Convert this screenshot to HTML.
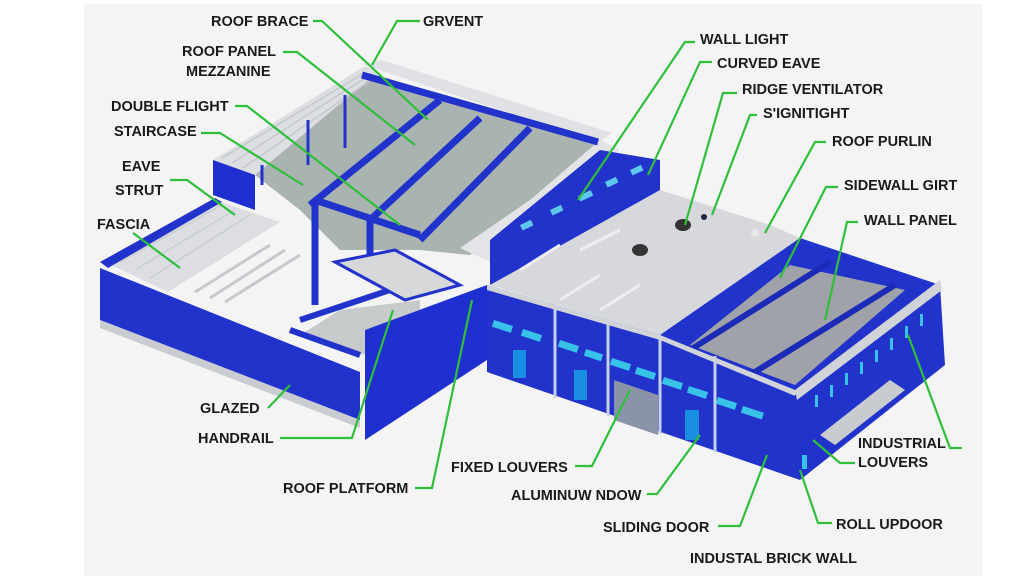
<!DOCTYPE html>
<html><head><meta charset="utf-8"><style>
html,body{margin:0;padding:0;background:#fff;width:1024px;height:576px;overflow:hidden}
svg{display:block}
text{font-family:"Liberation Sans",sans-serif;font-weight:bold;font-size:14.5px;fill:#1a1a1a}
.g{stroke:#2fbf3a;stroke-width:2.2;fill:none}
</style></head><body>
<svg width="1024" height="576" viewBox="0 0 1024 576">
<rect x="84" y="4" width="898" height="572" fill="#f4f4f4"/>
<!-- interior gray -->
<polygon points="255,175 365,72 600,140 470,255 420,250 340,250 300,210" fill="#a9b3b0"/>
<!-- upper left mezzanine roof -->
<polygon points="213,160 365,66 378,72 255,175" fill="#dcdee2"/>
<g stroke="#c4c7cc" stroke-width="1.5">
<line x1="222" y1="158" x2="366" y2="72"/><line x1="232" y1="163" x2="370" y2="75"/><line x1="243" y1="168" x2="374" y2="78"/>
</g>
<polygon points="213,160 255,175 255,210 213,195" fill="#2030d0"/>
<!-- top ridge strip -->
<polygon points="362,64 382,60 612,133 598,143" fill="#dfe1e4"/>
<!-- right striped roof panel -->
<polygon points="600,140 530,200 460,248 490,262 560,210 620,150" fill="#e2e4e7"/>
<!-- blue beams -->
<g stroke="#2233cc" stroke-width="7" fill="none">
<line x1="362" y1="75" x2="598" y2="142"/>
<line x1="310" y1="205" x2="440" y2="100"/>
<line x1="370" y1="220" x2="480" y2="118"/>
<line x1="420" y1="240" x2="530" y2="128"/>
<line x1="315" y1="200" x2="315" y2="305"/>
<line x1="315" y1="200" x2="420" y2="235"/>
<line x1="370" y1="218" x2="370" y2="265"/>
</g>
<g stroke="#2233cc" stroke-width="3"><line x1="262" y1="165" x2="262" y2="185"/><line x1="308" y1="120" x2="308" y2="165"/><line x1="345" y1="95" x2="345" y2="148"/></g>
<!-- middle right blue wall with windows -->
<polygon points="490,240 600,150 660,160 660,195 490,285" fill="#2233cc"/>
<g fill="#5ec8ec"><rect x="520" y="225" width="12" height="6" transform="rotate(-25 520 225)"/><rect x="550" y="210" width="12" height="6" transform="rotate(-25 550 210)"/><rect x="578" y="196" width="14" height="6" transform="rotate(-25 578 196)"/><rect x="605" y="182" width="12" height="6" transform="rotate(-25 605 182)"/><rect x="630" y="170" width="12" height="6" transform="rotate(-25 630 170)"/></g>
<!-- left lower roof -->
<polygon points="105,262 215,200 280,222 168,292" fill="#dcdee2"/>
<g stroke="#c9ccd0" stroke-width="1.5"><line x1="120" y1="262" x2="222" y2="205"/><line x1="135" y1="270" x2="235" y2="210"/><line x1="150" y1="278" x2="250" y2="215"/></g>
<polygon points="100,262 215,198 222,202 108,268" fill="#2233cc"/>
<g stroke="#c5c8cc" stroke-width="3"><line x1="195" y1="292" x2="270" y2="245"/><line x1="210" y1="298" x2="285" y2="250"/><line x1="225" y1="302" x2="300" y2="255"/></g>
<!-- left front wall -->
<polygon points="100,268 360,372 360,420 100,320" fill="#2233cc"/>
<polygon points="100,320 360,420 360,428 100,328" fill="#c9ccd0"/>
<polygon points="300,335 340,310 420,300 420,340 360,355" fill="#c8cbcc"/>
<g stroke="#2233cc" stroke-width="6"><line x1="290" y1="330" x2="360" y2="355"/><line x1="300" y1="320" x2="420" y2="280"/></g>
<!-- mezzanine platform -->
<polygon points="335,262 395,250 460,285 405,300" fill="#d6d8da" stroke="#2233cc" stroke-width="3"/>
<!-- center tall wall -->
<polygon points="365,330 487,285 487,360 365,440" fill="#2030d0"/>
<!-- big roof -->
<polygon points="490,285 660,190 770,225 805,240 660,335" fill="#d6d8db"/>
<g stroke="#eceef0" stroke-width="3"><line x1="520" y1="270" x2="560" y2="245"/><line x1="560" y1="300" x2="600" y2="275"/><line x1="600" y1="310" x2="640" y2="285"/><line x1="580" y1="250" x2="620" y2="230"/></g>
<ellipse cx="640" cy="250" rx="8" ry="6" fill="#333"/><ellipse cx="683" cy="225" rx="8" ry="6" fill="#333"/><circle cx="704" cy="217" r="3" fill="#224"/><circle cx="755" cy="233" r="4" fill="#e8e8e8"/>
<!-- right open bay -->
<polygon points="660,335 800,238 940,285 800,395" fill="#2233cc"/>
<polygon points="690,345 790,265 905,290 795,385" fill="#9fa2a8"/>
<g stroke="#1c2ab8" stroke-width="6"><line x1="690" y1="350" x2="830" y2="262"/><line x1="750" y1="375" x2="895" y2="285"/></g>
<!-- front long wall -->
<polygon points="487,285 660,335 800,395 800,480 487,372" fill="#2233cc"/>
<g stroke="#c8d0e8" stroke-width="3"><line x1="555" y1="305" x2="555" y2="398"/><line x1="608" y1="322" x2="608" y2="416"/><line x1="660" y1="338" x2="660" y2="434"/><line x1="715" y1="356" x2="715" y2="452"/></g>
<polygon points="487,285 660,335 800,392 800,398 660,340 487,290" fill="#d0d3d8"/>
<g fill="#39c2e8">
<rect x="494" y="320" width="20" height="7" transform="rotate(18 494 320)"/><rect x="523" y="329" width="20" height="7" transform="rotate(18 523 329)"/>
<rect x="560" y="340" width="20" height="7" transform="rotate(18 560 340)"/><rect x="586" y="349" width="18" height="7" transform="rotate(18 586 349)"/>
<rect x="612" y="358" width="20" height="7" transform="rotate(18 612 358)"/><rect x="637" y="367" width="20" height="7" transform="rotate(18 637 367)"/>
<rect x="664" y="377" width="20" height="7" transform="rotate(18 664 377)"/><rect x="689" y="386" width="20" height="7" transform="rotate(18 689 386)"/>
<rect x="718" y="397" width="20" height="7" transform="rotate(18 718 397)"/><rect x="743" y="406" width="22" height="7" transform="rotate(18 743 406)"/>
<rect x="513" y="350" width="13" height="28" fill="#1a8ee0"/><rect x="574" y="370" width="13" height="30" fill="#1a8ee0"/><rect x="685" y="410" width="14" height="30" fill="#1a8ee0"/>
</g>
<polygon points="614,380 658,395 658,435 614,420" fill="#8b93a8"/>
<!-- right wall -->
<polygon points="795,395 940,285 945,365 800,480" fill="#2233cc"/>
<polygon points="795,390 940,280 942,290 797,400" fill="#d0d3d8"/>
<polygon points="820,435 890,380 905,390 835,445" fill="#c8cbd0"/>
<g fill="#39c2e8"><rect x="815" y="395" width="3" height="12"/><rect x="830" y="385" width="3" height="12"/><rect x="845" y="373" width="3" height="12"/><rect x="860" y="362" width="3" height="12"/><rect x="875" y="350" width="3" height="12"/><rect x="890" y="338" width="3" height="12"/><rect x="905" y="326" width="3" height="12"/><rect x="920" y="314" width="3" height="12"/><rect x="802" y="455" width="5" height="14"/></g>
<!-- leaders -->
<polyline class="g" points="313,21 322,21 428,120"/>
<polyline class="g" points="420,21 397,21 372,65"/>
<polyline class="g" points="283,52 297,52 415,145"/>
<polyline class="g" points="235,106 247,106 400,225"/>
<polyline class="g" points="201,133 220,133 303,185"/>
<polyline class="g" points="170,180 187,180 235,215"/>
<polyline class="g" points="133,233 180,268"/>
<polyline class="g" points="268,408 290,385"/>
<polyline class="g" points="280,438 352,438 393,310"/>
<polyline class="g" points="415,488 432,488 472,300"/>
<polyline class="g" points="575,466 592,466 630,390"/>
<polyline class="g" points="647,494 657,494 700,435"/>
<polyline class="g" points="718,526 740,526 767,455"/>
<polyline class="g" points="832,523 818,523 800,470"/>
<polyline class="g" points="855,463 840,463 813,440"/>
<polyline class="g" points="962,448 950,448 908,335"/>
<polyline class="g" points="695,42 685,42 578,200"/>
<polyline class="g" points="712,62 700,62 648,175"/>
<polyline class="g" points="737,93 723,93 685,225"/>
<polyline class="g" points="757,115 750,115 712,215"/>
<polyline class="g" points="826,142 815,142 765,233"/>
<polyline class="g" points="838,187 826,187 780,278"/>
<polyline class="g" points="858,222 847,222 825,320"/>
<!-- labels -->
<text x="211" y="26">ROOF BRACE</text>
<text x="423" y="26">GRVENT</text>
<text x="182" y="56">ROOF PANEL</text>
<text x="186" y="76">MEZZANINE</text>
<text x="111" y="111">DOUBLE FLIGHT</text>
<text x="114" y="136">STAIRCASE</text>
<text x="122" y="171">EAVE</text>
<text x="115" y="195">STRUT</text>
<text x="97" y="229">FASCIA</text>
<text x="200" y="413">GLAZED</text>
<text x="198" y="443">HANDRAIL</text>
<text x="283" y="493">ROOF PLATFORM</text>
<text x="451" y="472">FIXED LOUVERS</text>
<text x="511" y="500">ALUMINUW NDOW</text>
<text x="603" y="532">SLIDING DOOR</text>
<text x="690" y="563">INDUSTAL BRICK WALL</text>
<text x="836" y="529">ROLL UPDOOR</text>
<text x="858" y="448">INDUSTRIAL</text>
<text x="858" y="467">LOUVERS</text>
<text x="700" y="44">WALL LIGHT</text>
<text x="717" y="68">CURVED EAVE</text>
<text x="742" y="94">RIDGE VENTILATOR</text>
<text x="763" y="118">S'IGNITIGHT</text>
<text x="832" y="146">ROOF PURLIN</text>
<text x="844" y="190">SIDEWALL GIRT</text>
<text x="864" y="225">WALL PANEL</text>
</svg>
</body></html>
